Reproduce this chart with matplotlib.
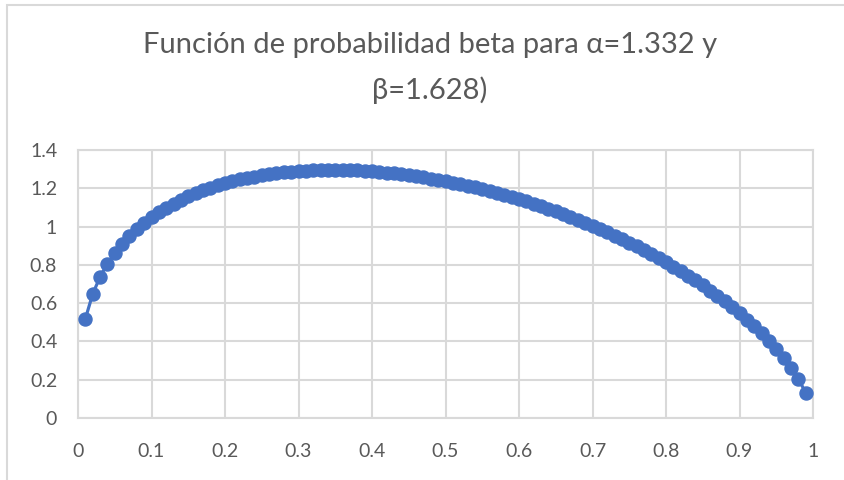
import matplotlib
matplotlib.use("Agg")
import matplotlib.pyplot as plt
from matplotlib.patches import Rectangle

x_values = [i / 100 for i in range(1, 100)]
density = [
    0.518, 0.648, 0.737, 0.806, 0.862, 0.910, 0.951, 0.988, 1.020, 1.049,
    1.075, 1.099, 1.120, 1.140, 1.158, 1.174, 1.189, 1.202, 1.215, 1.226,
    1.236, 1.246, 1.254, 1.261, 1.268, 1.274, 1.279, 1.283, 1.287, 1.290,
    1.292, 1.294, 1.295, 1.296, 1.296, 1.295, 1.294, 1.293, 1.291, 1.288,
    1.285, 1.282, 1.278, 1.273, 1.268, 1.263, 1.257, 1.251, 1.244, 1.237,
    1.230, 1.222, 1.213, 1.205, 1.195, 1.186, 1.176, 1.165, 1.154, 1.143,
    1.131, 1.119, 1.106, 1.093, 1.079, 1.065, 1.050, 1.035, 1.020, 1.004,
    0.987, 0.970, 0.953, 0.935, 0.916, 0.897, 0.877, 0.856, 0.835, 0.813,
    0.791, 0.768, 0.744, 0.719, 0.693, 0.666, 0.638, 0.609, 0.579, 0.547,
    0.514, 0.479, 0.442, 0.403, 0.361, 0.315, 0.263, 0.205, 0.133,
]
x_ticks = [0, 0.1, 0.2, 0.3, 0.4, 0.5, 0.6, 0.7, 0.8, 0.9, 1]
x_tick_labels = ["0", "0.1", "0.2", "0.3", "0.4", "0.5", "0.6", "0.7", "0.8", "0.9", "1"]
y_ticks = [0, 0.2, 0.4, 0.6, 0.8, 1.0, 1.2, 1.4]
y_tick_labels = ["0", "0.2", "0.4", "0.6", "0.8", "1", "1.2", "1.4"]
title_line1 = "Función de probabilidad beta para α=1.332 y"
title_line2 = "β=1.628)"

FONT = ["Lato", "DejaVu Sans"]
plt.rcParams["font.family"] = FONT
TEXT = "#595959"
GRID = "#D9D9D9"
BLUE = "#4472C4"

fig = plt.figure(figsize=(8.44, 4.8), dpi=100)
fig.patch.set_facecolor("white")
fig.patches.append(Rectangle((7 / 844, -0.1), 1.2, 1 - 5 / 480 + 0.1, transform=fig.transFigure,
                             fill=False, edgecolor=GRID, linewidth=1.5))

ax = fig.add_axes([78 / 844, 1 - 418 / 480, (813 - 78) / 844, (418 - 150) / 480])
ax.plot(x_values, density, color=BLUE, linewidth=2.3, marker="o", markersize=9.4,
        markerfacecolor=BLUE, markeredgecolor=BLUE, zorder=3, clip_on=False)
ax.set_xlim(0, 1)
ax.set_ylim(0, 1.4)
ax.set_xticks(x_ticks)
ax.set_xticklabels(x_tick_labels)
ax.set_yticks(y_ticks)
ax.set_yticklabels(y_tick_labels)
ax.tick_params(axis="both", length=0, labelsize=14, colors=TEXT)
ax.tick_params(axis="x", pad=18)
ax.tick_params(axis="y", pad=15)
ax.grid(True, color=GRID, linewidth=1.5)
ax.set_axisbelow(True)
for s in ax.spines.values():
    s.set_color(GRID)
    s.set_linewidth(1.5)

fig.text(430 / 844, 1 - 45 / 480, title_line1, ha="center", va="center", fontsize=21,
         color=TEXT, family=FONT)
fig.text(430 / 844, 1 - 90 / 480, title_line2, ha="center", va="center", fontsize=21,
         color=TEXT, family=FONT)

fig.savefig("out.png", dpi=100, facecolor="white")
